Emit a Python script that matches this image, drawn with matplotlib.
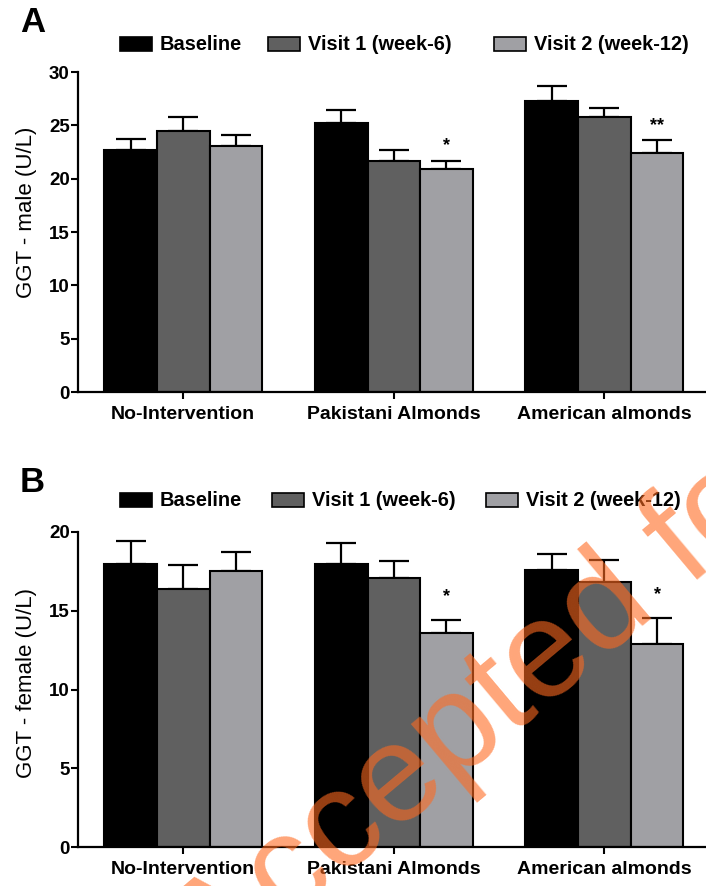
"""
GGT by sex — grouped bars (baseline / visit 1 / visit 2) with upper SEM bars
"""

import matplotlib
import matplotlib.pyplot as plt
from matplotlib.patches import Rectangle
import numpy as np

matplotlib.use("Agg")

plt.rcParams["font.family"] = ["Liberation Sans", "DejaVu Sans"]

GROUPS = ["No-Intervention", "Pakistani Almonds", "American almonds"]
VISITS = ["Baseline", "Visit 1 (week-6)", "Visit 2 (week-12)"]
COLORS = ["#000000", "#606060", "#a0a0a4"]

# panel A — male
male_mean = [[22.7, 25.2, 27.3],    # baseline
             [24.5, 21.7, 25.8],    # visit 1
             [23.1, 20.9, 22.4]]    # visit 2
male_err = [[1.0, 1.2, 1.35],
            [1.3, 1.0, 0.8],
            [1.0, 0.8, 1.2]]
male_stars = [["", "", ""], ["", "", ""], ["", "*", "**"]]

# panel B — female
female_mean = [[18.0, 18.0, 17.6],
               [16.4, 17.1, 16.85],
               [17.5, 13.6, 12.9]]
female_err = [[1.4, 1.3, 1.0],
              [1.5, 1.05, 1.4],
              [1.2, 0.8, 1.65]]
female_stars = [["", "", ""], ["", "", ""], ["", "*", "*"]]

W, H = 706, 886


def fx(px):
    return px / W


def fy(py):
    return 1 - py / H


def panel(ax, means, errs, stars, ymax, ystep, ylabel, star_off, label_y):
    centers = np.arange(len(GROUPS)) * 4.0
    for i, (m, e, c) in enumerate(zip(means, errs, COLORS)):
        xs = centers + (i - 1)
        ax.bar(xs, m, width=1.0, color=c, edgecolor="black", linewidth=1.5,
               zorder=2)
        ax.errorbar(xs, m, yerr=[np.zeros(len(e)), e], fmt="none",
                    ecolor="black", elinewidth=1.6, capsize=11, capthick=1.6,
                    zorder=1)
        for x, mv, ev, s in zip(xs, m, e, stars[i]):
            if s:
                ax.text(x, mv + ev + star_off, s, ha="center", va="center",
                        fontsize=13, fontweight="bold")
    ax.set_xlim(-2, 9.93)
    ax.set_ylim(0, ymax)
    ax.set_yticks(np.arange(0, ymax + 0.1, ystep))
    ax.set_xticks(centers)
    ax.set_xticklabels(GROUPS, fontsize=14, fontweight="bold")
    ax.tick_params(axis="y", labelsize=13.5, width=1.5, length=5, pad=1)
    ax.tick_params(axis="x", width=1.5, length=5, pad=5)
    for t in ax.get_yticklabels():
        t.set_fontweight("bold")
    for s in ["top", "right"]:
        ax.spines[s].set_visible(False)
    for s in ["left", "bottom"]:
        ax.spines[s].set_linewidth(1.6)
    ax.set_ylabel(ylabel, fontsize=16)
    ax.yaxis.set_label_coords(-0.066, label_y)


def legend(fig, y, xs):
    # xs: left pixel of each patch
    for x, c, lab in zip(xs, COLORS, VISITS):
        fig.patches.append(Rectangle((fx(x), fy(y + 7)), fx(32), 14 / H,
                                     facecolor=c, edgecolor="black",
                                     linewidth=1.2, transform=fig.transFigure))
        fig.text(fx(x + 40), fy(y), lab, fontsize=14.4, fontweight="bold",
                 va="center", ha="left")


def main():
    fig = plt.figure(figsize=(W / 100, H / 100), dpi=100, facecolor="white")

    ax_a = fig.add_axes([fx(78), fy(392), 1 - fx(78), (392 - 72) / H])
    panel(ax_a, male_mean, male_err, male_stars, 30, 5,
          "GGT - male (U/L)", 1.4, 0.56)
    ax_b = fig.add_axes([fx(78), fy(847), 1 - fx(78), (847 - 532) / H])
    panel(ax_b, female_mean, female_err, female_stars, 20, 5,
          "GGT - female (U/L)", 1.5, 0.52)

    fig.text(fx(20), fy(22), "A", fontsize=25, fontweight="bold", va="center")
    fig.text(fx(20), fy(482), "B", fontsize=25, fontweight="bold", va="center")
    legend(fig, 44, [120, 268, 494])
    legend(fig, 500, [120, 272, 486])

    # journal watermark
    fig.text(fx(215), fy(985), "Accepted for publication", fontsize=100,
             color="#ff6a20", alpha=0.6, rotation=40,
             rotation_mode="anchor", ha="left", va="baseline", zorder=10)

    fig.savefig("out.png", dpi=100, facecolor="white")
    plt.close(fig)


if __name__ == "__main__":
    main()
